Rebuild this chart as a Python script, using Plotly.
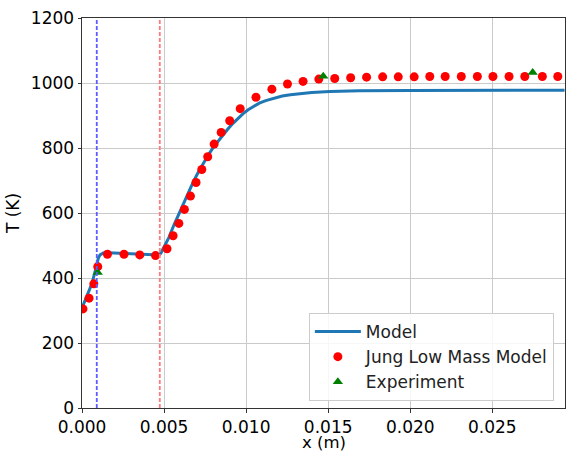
import plotly.graph_objects as go

# Model temperature profile along x
model_x = [0.0000, 0.0003, 0.0006, 0.0008, 0.0009, 0.0010, 0.0011, 0.0012, 0.0013, 0.0016,
           0.0020, 0.0025, 0.0030, 0.0035, 0.0040, 0.0045, 0.0047, 0.0048, 0.0049, 0.0050,
           0.0053, 0.0056, 0.0059, 0.0062, 0.0065, 0.0068, 0.0071, 0.0074, 0.0077,
           0.0080, 0.0083, 0.0086, 0.0089, 0.0092, 0.0095, 0.0098, 0.0101, 0.0104,
           0.0108, 0.0112, 0.0117, 0.0122, 0.0127, 0.0133, 0.0140, 0.0151, 0.0169,
           0.0200, 0.0250, 0.0294]
model_T = [308, 345, 382, 420, 445, 462, 471, 475, 477, 478,
           477, 476, 474, 472, 471, 470, 471, 476, 485, 495,
           525, 563, 598, 630, 665, 698, 727, 754, 779,
           802, 822, 841, 859, 876, 892, 905, 917, 927,
           938, 946, 954, 960, 964, 968, 971, 974, 976,
           977, 978, 978]

# Jung low mass model
jung_x = [0.00006, 0.00043, 0.00072, 0.00096, 0.00155, 0.00256, 0.00352, 0.00448,
          0.00518, 0.00555, 0.00590, 0.00624, 0.00661, 0.00695, 0.00730, 0.00766,
          0.00805, 0.00848, 0.00900, 0.00964, 0.01060, 0.01157, 0.01252, 0.01347,
          0.01443, 0.01540, 0.01637, 0.01734, 0.01832, 0.01927, 0.02024, 0.02119,
          0.02213, 0.02311, 0.02409, 0.02504, 0.02602, 0.02698, 0.02805, 0.02899]
jung_T = [305, 338, 382, 435, 473, 473, 471, 469,
          490, 530, 568, 611, 652, 694, 734, 773,
          812, 848, 884, 921, 956, 981, 997, 1005,
          1012, 1014, 1016, 1018, 1019, 1019, 1019, 1020,
          1020, 1020, 1020, 1020, 1020, 1020, 1020, 1020]

# Experimental measurements
exp_x = [0.00096, 0.0147, 0.02746]
exp_T = [417, 1021, 1032]

# Reference positions (vertical markers)
blue_line_x = 0.0009
red_line_x = 0.00474

x_ticks = [0.000, 0.005, 0.010, 0.015, 0.020, 0.025]
y_ticks = [0, 200, 400, 600, 800, 1000, 1200]

FONT = "DejaVu Sans"
FS = 17

W, H = 566, 453
M_TOP, M_BOTTOM = 18.3, 45
PLOT_H = H - M_TOP - M_BOTTOM

fig = go.Figure()
fig.add_trace(go.Scatter(x=model_x, y=model_T, mode="lines", name="Model",
                         line=dict(color="#1f77b4", width=3), legendgroup="a"))
fig.add_trace(go.Scatter(x=jung_x, y=jung_T, mode="markers", name="Jung Low Mass Model",
                         marker=dict(color="#ff0000", size=9, symbol="circle", line=dict(width=0)),
                         legendgroup="b"))
fig.add_trace(go.Scatter(x=exp_x, y=exp_T, mode="markers", name="Experiment",
                         marker=dict(color="#008000", size=9, symbol="triangle-up", line=dict(width=0)),
                         legendgroup="c"))

fig.add_vline(x=blue_line_x, line=dict(color="#5c5cff", width=1.8, dash="4px,2px"))
fig.add_vline(x=red_line_x, line=dict(color="#ff7a7a", width=1.8, dash="4px,2px"))

axis_common = dict(
    showgrid=True, gridcolor="#cacaca", gridwidth=1,
    showline=True, linecolor="#333333", linewidth=1, mirror=True,
    ticks="outside", ticklen=3.5, tickwidth=1, tickcolor="#333333",
    tickfont=dict(family=FONT, size=FS, color="black"),
    zeroline=False, automargin=False,
)

fig.update_xaxes(range=[0, 0.02943], tickvals=x_ticks, tickformat=".3f", **axis_common)
fig.update_yaxes(range=[0, 1200], tickvals=y_ticks,
                 title=dict(text="T (K)", font=dict(family=FONT, size=FS, color="black"), standoff=6),
                 **axis_common)

# x-axis label sitting at the bottom edge, below the tick labels
fig.add_annotation(text="x (m)", xref="paper", yref="paper", x=0.5,
                   y=-(M_BOTTOM - 0.5) / PLOT_H,
                   xanchor="center", yanchor="bottom", showarrow=False, borderpad=0,
                   font=dict(family=FONT, size=16.5, color="black"))

fig.update_layout(
    width=W, height=H,
    margin=dict(l=82.3, r=1, t=M_TOP, b=M_BOTTOM),
    paper_bgcolor="white", plot_bgcolor="white",
    font=dict(family=FONT, size=FS, color="black"),
    showlegend=True,
    legend=dict(x=0.4697, y=0.018, xanchor="left", yanchor="bottom",
                bgcolor="rgba(255,255,255,0.85)", bordercolor="#cccccc", borderwidth=1,
                font=dict(family=FONT, size=FS, color="#222222"),
                traceorder="grouped", tracegroupgap=0, itemwidth=46),
)

fig.write_html("out.html")
